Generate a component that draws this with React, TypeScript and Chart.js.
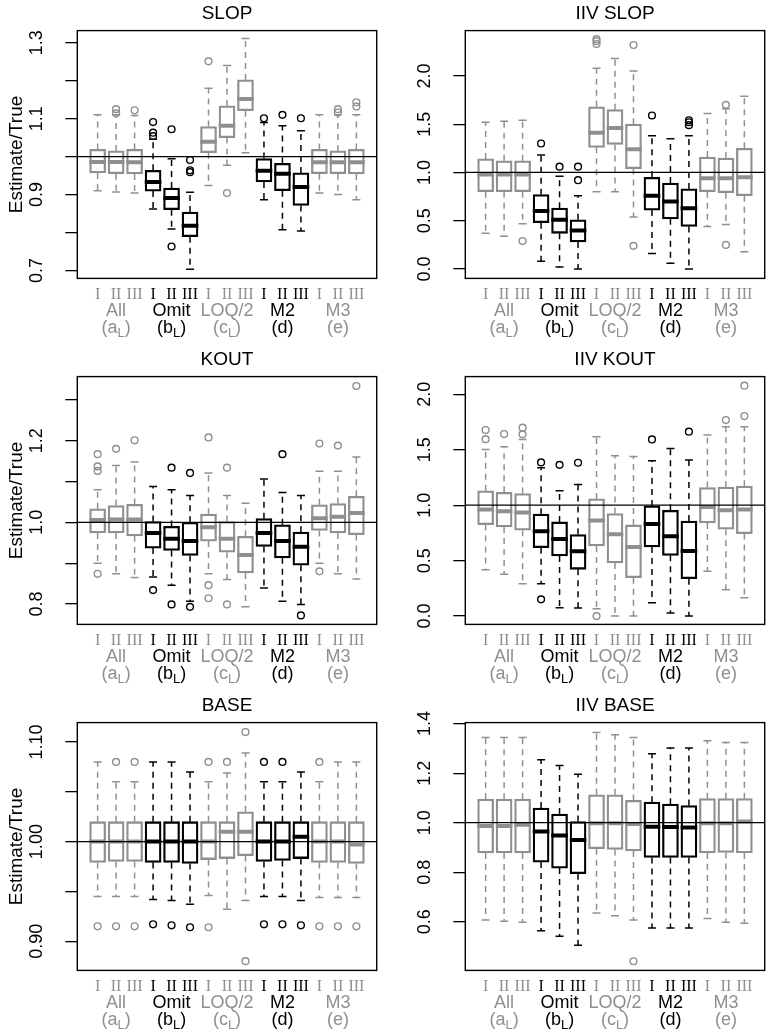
import React, { useEffect, useRef } from 'react';
import { Chart, registerables } from 'chart.js';

Chart.register(...registerables);

const SANS = '"Liberation Sans", Arial, Helvetica, sans-serif';
const SERIF = '"Liberation Serif", "Times New Roman", serif';
const GRAY = '#8f8f8f';
const BLACK = '#000000';

// ---- categories ----
const positions = [1, 2, 3, 4, 5, 6, 7, 8, 9, 10, 11, 12, 13, 14, 15];
const numeralLabels = ['I', 'II', 'III', 'I', 'II', 'III', 'I', 'II', 'III', 'I', 'II', 'III', 'I', 'II', 'III'];
const groupNames = ['All', 'Omit', 'LOQ/2', 'M2', 'M3'];
const groupLetters = ['a', 'b', 'c', 'd', 'e'];
const groupSubscripts = ['L', 'L', 'L', '', ''];
const groupCenters = [2, 5, 8, 11, 14];
const groupDark = [false, true, false, true, false];

// ---- SLOP ----
const slopLo = [0.910, 0.907, 0.904, 0.862, 0.809, 0.703, 0.924, 0.977, 1.010, 0.886, 0.807, 0.804, 0.904, 0.900, 0.886];
const slopQ1 = [0.957, 0.955, 0.954, 0.909, 0.860, 0.789, 1.010, 1.050, 1.121, 0.933, 0.910, 0.871, 0.955, 0.955, 0.954];
const slopMed = [0.986, 0.986, 0.985, 0.933, 0.891, 0.818, 1.039, 1.081, 1.152, 0.963, 0.955, 0.920, 0.985, 0.985, 0.985];
const slopQ3 = [1.019, 1.015, 1.019, 0.964, 0.917, 0.854, 1.079, 1.134, 1.202, 0.995, 0.982, 0.957, 1.019, 1.015, 1.019];
const slopHi = [1.110, 1.110, 1.108, 1.046, 0.994, 0.906, 1.180, 1.240, 1.311, 1.090, 1.081, 1.068, 1.110, 1.110, 1.110];
const slopOut = [[], [1.125, 1.114], [1.122], [1.091, 1.063, 1.054], [1.072, 0.763], [0.991, 0.964, 0.959], [1.251], [0.904], [], [1.101], [1.110], [1.101], [], [1.125, 1.116], [1.143, 1.132]];
const slopRange = [0.679, 1.332];
const slopTicks = [0.7, 0.8, 0.9, 1.0, 1.1, 1.2, 1.3];
const slopTickLabels = ['0.7', '', '0.9', '', '1.1', '', '1.3'];

// ---- IIV SLOP ----
const iivSlopLo = [0.37, 0.34, 0.47, 0.08, 0.02, 0.00, 0.80, 0.80, 0.54, 0.16, 0.06, 0.00, 0.44, 0.46, 0.18];
const iivSlopQ1 = [0.80, 0.80, 0.80, 0.48, 0.37, 0.28, 1.26, 1.29, 1.04, 0.61, 0.52, 0.44, 0.80, 0.79, 0.76];
const iivSlopMed = [0.98, 0.98, 0.98, 0.60, 0.51, 0.40, 1.41, 1.46, 1.24, 0.76, 0.70, 0.63, 0.94, 0.94, 0.95];
const iivSlopQ3 = [1.14, 1.12, 1.12, 0.77, 0.63, 0.51, 1.68, 1.65, 1.50, 0.95, 0.89, 0.83, 1.16, 1.15, 1.25];
const iivSlopHi = [1.52, 1.53, 1.54, 1.18, 0.96, 0.76, 2.08, 2.18, 2.05, 1.38, 1.35, 1.38, 1.61, 1.66, 1.79];
const iivSlopOut = [[], [], [0.29], [1.30], [1.06], [0.92, 1.06], [2.33, 2.36, 2.38], [], [0.24, 2.32], [1.59], [], [1.49, 1.52, 1.54], [], [0.25, 1.70], []];
const iivSlopRange = [-0.097, 2.469];
const iivSlopTicks = [0, 0.5, 1.0, 1.5, 2.0];
const iivSlopTickLabels = ['0.0', '0.5', '1.0', '1.5', '2.0'];

// ---- KOUT ----
const koutLo = [0.900, 0.874, 0.865, 0.866, 0.846, 0.807, 0.874, 0.860, 0.793, 0.839, 0.807, 0.799, 0.900, 0.874, 0.861];
const koutQ1 = [0.974, 0.974, 0.967, 0.937, 0.931, 0.919, 0.954, 0.927, 0.876, 0.941, 0.913, 0.895, 0.980, 0.974, 0.970];
const koutMed = [1.006, 1.007, 1.007, 0.974, 0.960, 0.954, 0.988, 0.960, 0.920, 0.974, 0.954, 0.940, 1.010, 1.014, 1.023];
const koutQ3 = [1.033, 1.041, 1.044, 1.002, 0.990, 1.000, 1.020, 1.002, 0.966, 1.009, 0.994, 0.976, 1.043, 1.046, 1.064];
const koutHi = [1.080, 1.139, 1.148, 1.088, 1.080, 1.066, 1.121, 1.066, 1.047, 1.106, 1.073, 1.066, 1.125, 1.125, 1.160];
const koutOut = [[1.167, 1.137, 1.126, 0.874], [1.180], [1.201], [0.834], [1.134, 0.799], [1.121, 0.793], [1.208, 0.846, 0.814], [1.134, 0.799], [], [], [1.167], [0.772], [1.193, 0.880], [1.188], [1.334]];
const koutRange = [0.750, 1.357];
const koutTicks = [0.8, 0.9, 1.0, 1.1, 1.2, 1.3];
const koutTickLabels = ['0.8', '', '1.0', '', '1.2', ''];

// ---- IIV KOUT ----
const iivKoutLo = [0.419, 0.377, 0.292, 0.292, 0.075, 0.072, 0.066, 0.000, 0.000, 0.120, 0.027, 0.000, 0.404, 0.238, 0.166];
const iivKoutQ1 = [0.825, 0.804, 0.774, 0.617, 0.542, 0.422, 0.633, 0.479, 0.346, 0.623, 0.548, 0.337, 0.840, 0.783, 0.744];
const iivKoutMed = [0.961, 0.946, 0.934, 0.765, 0.696, 0.584, 0.861, 0.738, 0.623, 0.831, 0.720, 0.587, 0.985, 0.955, 0.961];
const iivKoutQ3 = [1.130, 1.117, 1.105, 0.919, 0.849, 0.735, 1.057, 0.925, 0.822, 0.994, 0.955, 0.858, 1.160, 1.163, 1.172];
const iivKoutHi = [1.503, 1.527, 1.593, 1.337, 1.130, 1.187, 1.617, 1.446, 1.440, 1.401, 1.512, 1.407, 1.633, 1.708, 1.708];
const iivKoutOut = [[1.678, 1.596], [1.642], [1.699, 1.639], [1.386, 0.151], [1.364], [1.383], [0.0], [], [], [1.593], [], [1.663], [], [1.768], [2.078, 1.804]];
const iivKoutRange = [-0.075, 2.16];
const iivKoutTicks = [0, 0.5, 1.0, 1.5, 2.0];
const iivKoutTickLabels = ['0.0', '0.5', '1.0', '1.5', '2.0'];

// ---- BASE ----
const baseLo = [0.945, 0.945, 0.945, 0.942, 0.941, 0.937, 0.946, 0.932, 0.941, 0.945, 0.945, 0.941, 0.944, 0.944, 0.944];
const baseQ1 = [0.979, 0.980, 0.980, 0.979, 0.979, 0.978, 0.982, 0.983, 0.986, 0.980, 0.981, 0.983, 0.979, 0.979, 0.978];
const baseMed = [1.000, 1.000, 1.000, 1.000, 1.000, 1.000, 1.000, 1.010, 1.010, 1.000, 1.000, 1.005, 1.000, 1.000, 0.997];
const baseQ3 = [1.020, 1.020, 1.020, 1.020, 1.020, 1.020, 1.020, 1.020, 1.030, 1.020, 1.020, 1.020, 1.020, 1.020, 1.020];
const baseHi = [1.080, 1.060, 1.060, 1.080, 1.080, 1.070, 1.060, 1.069, 1.089, 1.060, 1.060, 1.070, 1.060, 1.080, 1.080];
const baseOut = [[0.915], [1.080, 0.915], [1.080, 0.915], [0.917], [0.916], [0.914], [1.080, 0.914], [1.080], [1.110, 0.880], [1.080, 0.917], [1.080, 0.917], [0.916], [1.080, 0.915], [0.915], [0.915]];
const baseRange = [0.8707, 1.1195];
const baseTicks = [0.90, 0.95, 1.00, 1.05, 1.10];
const baseTickLabels = ['0.90', '', '1.00', '', '1.10'];

// ---- IIV BASE ----
const iivBaseLo = [0.607, 0.602, 0.598, 0.564, 0.542, 0.505, 0.636, 0.625, 0.607, 0.575, 0.575, 0.575, 0.613, 0.598, 0.594];
const iivBaseQ1 = [0.878, 0.878, 0.878, 0.841, 0.817, 0.794, 0.895, 0.892, 0.886, 0.860, 0.860, 0.860, 0.878, 0.880, 0.878];
const iivBaseMed = [0.987, 0.987, 0.992, 0.965, 0.948, 0.930, 0.998, 0.998, 0.995, 0.984, 0.983, 0.981, 0.998, 0.998, 1.005];
const iivBaseQ3 = [1.095, 1.095, 1.095, 1.059, 1.035, 1.005, 1.113, 1.113, 1.090, 1.083, 1.075, 1.069, 1.097, 1.097, 1.097];
const iivBaseHi = [1.344, 1.344, 1.344, 1.254, 1.231, 1.196, 1.364, 1.355, 1.344, 1.278, 1.301, 1.301, 1.331, 1.324, 1.324];
const iivBaseOut = [[], [], [], [], [], [], [], [], [0.441], [], [], [], [], [], []];
const iivBaseRange = [0.404, 1.404];
const iivBaseTicks = [0.6, 0.8, 1.0, 1.2, 1.4];
const iivBaseTickLabels = ['0.6', '0.8', '1.0', '1.2', '1.4'];

type PanelDef = {
  title: string;
  col: number;
  row: number;
  lo: number[]; q1: number[]; med: number[]; q3: number[]; hi: number[]; out: number[][];
  range: number[]; ticks: number[]; tickLabels: string[];
};

const panels: PanelDef[] = [
  { title: 'SLOP', col: 0, row: 0, lo: slopLo, q1: slopQ1, med: slopMed, q3: slopQ3, hi: slopHi, out: slopOut, range: slopRange, ticks: slopTicks, tickLabels: slopTickLabels },
  { title: 'IIV SLOP', col: 1, row: 0, lo: iivSlopLo, q1: iivSlopQ1, med: iivSlopMed, q3: iivSlopQ3, hi: iivSlopHi, out: iivSlopOut, range: iivSlopRange, ticks: iivSlopTicks, tickLabels: iivSlopTickLabels },
  { title: 'KOUT', col: 0, row: 1, lo: koutLo, q1: koutQ1, med: koutMed, q3: koutQ3, hi: koutHi, out: koutOut, range: koutRange, ticks: koutTicks, tickLabels: koutTickLabels },
  { title: 'IIV KOUT', col: 1, row: 1, lo: iivKoutLo, q1: iivKoutQ1, med: iivKoutMed, q3: iivKoutQ3, hi: iivKoutHi, out: iivKoutOut, range: iivKoutRange, ticks: iivKoutTicks, tickLabels: iivKoutTickLabels },
  { title: 'BASE', col: 0, row: 2, lo: baseLo, q1: baseQ1, med: baseMed, q3: baseQ3, hi: baseHi, out: baseOut, range: baseRange, ticks: baseTicks, tickLabels: baseTickLabels },
  { title: 'IIV BASE', col: 1, row: 2, lo: iivBaseLo, q1: iivBaseQ1, med: iivBaseMed, q3: iivBaseQ3, hi: iivBaseHi, out: iivBaseOut, range: iivBaseRange, ticks: iivBaseTicks, tickLabels: iivBaseTickLabels },
];

// ---- layout ----
const CANVAS_W = 389;
const ROW_H = 346;
const PAGE_H = 1030;
const PLOT_LEFT = 77.3;
const PLOT_TOP = 30.6;
const PLOT_BOTTOM = 278.4;
const PLOT_RIGHT = 388.2;
const X_MIN = -0.1;
const X_MAX = 16.1;

const colorOf = (i: number) => (groupDark[Math.floor(i / 3)] ? BLACK : GRAY);
const colorOfX = (x: number) => colorOf(Math.round(x) - 1);

function buildConfig(p: PanelDef, canvasH: number): any {
  const boxes = positions.map((x, i) => ({ x, y: [p.q1[i], p.q3[i]] }));
  const medians = positions.map((x, i) => ({ x, y: p.med[i] }));
  const whiskers: any[] = [];
  positions.forEach((x, i) => {
    whiskers.push({ x, y: p.q3[i] }, { x, y: p.hi[i] }, { x, y: null });
    whiskers.push({ x, y: p.q1[i] }, { x, y: p.lo[i] }, { x, y: null });
  });
  const caps: any[] = [];
  const capColors: string[] = [];
  positions.forEach((x, i) => {
    caps.push({ x, y: p.hi[i] }, { x, y: p.lo[i] });
    capColors.push(colorOf(i), colorOf(i));
  });
  const outliers: any[] = [];
  const outColors: string[] = [];
  positions.forEach((x, i) => {
    p.out[i].forEach((v) => {
      outliers.push({ x, y: v });
      outColors.push(colorOf(i));
    });
  });
  const boxColors = positions.map((_, i) => colorOf(i));
  const isLeft = p.col === 0;

  const decor = {
    id: 'decor',
    afterDraw(chart: any) {
      const { ctx, chartArea } = chart;
      const xs = chart.scales.x;
      const ys = chart.scales.y;
      ctx.save();
      // rotated y tick labels
      ctx.fillStyle = BLACK;
      ctx.font = `18px ${SANS}`;
      ctx.textAlign = 'center';
      ctx.textBaseline = 'middle';
      ys.ticks.forEach((t: any, i: number) => {
        const lab = p.tickLabels[i];
        if (!lab) return;
        const py = ys.getPixelForValue(t.value);
        ctx.save();
        ctx.translate(chartArea.left - 40.3, py);
        ctx.rotate(-Math.PI / 2);
        ctx.fillText(lab, 0, 0);
        ctx.restore();
      });
      // group labels
      groupCenters.forEach((gx, g) => {
        const px = xs.getPixelForValue(gx);
        const color = groupDark[g] ? BLACK : GRAY;
        ctx.fillStyle = color;
        ctx.textBaseline = 'middle';
        ctx.textAlign = 'center';
        ctx.font = `18px ${SANS}`;
        ctx.fillText(groupNames[g], px, chartArea.bottom + 33);
        const yy = chartArea.bottom + 49.6;
        const main = '(' + groupLetters[g];
        const sub = groupSubscripts[g];
        const close = ')';
        const fBig = `18px ${SANS}`;
        const fSmall = `13px ${SANS}`;
        ctx.font = fBig;
        const w1 = ctx.measureText(main).width;
        const w3 = ctx.measureText(close).width;
        ctx.font = fSmall;
        const w2 = sub ? ctx.measureText(sub).width : 0;
        let sx = px - (w1 + w2 + w3) / 2;
        ctx.textAlign = 'left';
        ctx.font = fBig;
        ctx.fillText(main, sx, yy);
        sx += w1;
        if (sub) {
          ctx.font = fSmall;
          ctx.fillText(sub, sx, yy + 5);
          sx += w2;
        }
        ctx.font = fBig;
        ctx.fillText(close, sx, yy);
      });
      // frame
      ctx.strokeStyle = BLACK;
      ctx.lineWidth = 1.4;
      ctx.strokeRect(chartArea.left, chartArea.top, chartArea.right - chartArea.left, chartArea.bottom - chartArea.top);
      ctx.restore();
    },
  };

  return {
    type: 'bar',
    data: {
      datasets: [
        {
          type: 'line',
          label: 'ref',
          data: [{ x: X_MIN, y: 1 }, { x: X_MAX, y: 1 }],
          borderColor: BLACK,
          borderWidth: 1.3,
          pointRadius: 0,
          order: 0,
        },
        {
          type: 'line',
          label: 'outliers',
          data: outliers,
          showLine: false,
          pointStyle: 'circle',
          pointRadius: 3.4,
          pointBorderWidth: 1.4,
          pointBackgroundColor: 'rgba(0,0,0,0)',
          pointBorderColor: outColors,
          order: 1,
        },
        {
          type: 'line',
          label: 'medians',
          data: medians,
          showLine: false,
          pointStyle: 'line',
          pointRadius: 8.3,
          pointBorderWidth: 4,
          pointBorderColor: boxColors,
          order: 2,
        },
        {
          type: 'line',
          label: 'caps',
          data: caps,
          showLine: false,
          pointStyle: 'line',
          pointRadius: 4,
          pointBorderWidth: 1.5,
          pointBorderColor: capColors,
          order: 3,
        },
        {
          type: 'line',
          label: 'whiskers',
          data: whiskers,
          spanGaps: false,
          borderWidth: 1.5,
          borderDash: [6, 5],
          pointRadius: 0,
          borderColor: GRAY,
          segment: { borderColor: (ctx: any) => colorOfX(ctx.p0.parsed.x) },
          order: 4,
        },
        {
          type: 'bar',
          label: 'boxes',
          data: boxes,
          backgroundColor: 'rgba(0,0,0,0)',
          borderColor: boxColors,
          borderWidth: 1.6,
          borderSkipped: false,
          barThickness: 16,
          grouped: false,
          order: 5,
        },
      ],
    },
    options: {
      responsive: false,
      animation: false,
      events: [],
      layout: { padding: { left: 0, top: 0, bottom: 0, right: CANVAS_W - PLOT_RIGHT } },
      plugins: {
        legend: { display: false },
        tooltip: { enabled: false },
        title: {
          display: true,
          text: p.title,
          fullSize: false,
          color: BLACK,
          font: { family: SANS, size: 19, weight: 'normal', lineHeight: 1.2 },
          padding: { top: 2.6, bottom: PLOT_TOP - 22.8 - 2.6 },
        },
      },
      scales: {
        x: {
          type: 'linear',
          min: X_MIN,
          max: X_MAX,
          offset: false,
          afterBuildTicks: (s: any) => {
            s.ticks = positions.map((v) => ({ value: v }));
          },
          afterFit: (s: any) => {
            s.height = canvasH - PLOT_BOTTOM;
          },
          ticks: {
            autoSkip: false,
            maxRotation: 0,
            minRotation: 0,
            padding: 6.7,
            font: { family: SERIF, size: 16 },
            color: (ctx: any) => colorOf(ctx.index),
            callback: (_v: any, i: number) => numeralLabels[i],
          },
          grid: { display: false, drawTicks: false, offset: false },
          border: { display: false },
        },
        y: {
          type: 'linear',
          min: p.range[0],
          max: p.range[1],
          afterBuildTicks: (s: any) => {
            s.ticks = p.ticks.map((v) => ({ value: v }));
          },
          afterFit: (s: any) => {
            s.width = PLOT_LEFT;
          },
          ticks: { display: false },
          grid: { display: true, drawOnChartArea: false, drawTicks: true, tickLength: 12, color: BLACK, lineWidth: 1.3 },
          border: { display: false },
          title: {
            display: isLeft,
            text: 'Estimate/True',
            color: BLACK,
            font: { family: SANS, size: 19, lineHeight: 1.2 },
            padding: { top: 5.6, bottom: 0 },
          },
        },
      },
    },
    plugins: [decor],
  };
}

function Panel({ p }: { p: PanelDef }) {
  const ref = useRef<HTMLCanvasElement>(null);
  const top = p.row * ROW_H;
  const left = p.col === 0 ? 0 : 388;
  const h = Math.min(ROW_H, PAGE_H - top);
  useEffect(() => {
    if (!ref.current) return;
    const chart = new Chart(ref.current, buildConfig(p, h));
    return () => chart.destroy();
  }, []);
  return (
    <canvas
      ref={ref}
      width={CANVAS_W}
      height={h}
      style={{ position: 'absolute', left, top, width: CANVAS_W, height: h }}
    />
  );
}

export default function App() {
  return (
    <div style={{ position: 'absolute', left: 0, top: 0, width: 777, height: PAGE_H, background: '#ffffff', overflow: 'hidden' }}>
      {panels.map((p) => (
        <Panel key={p.title} p={p} />
      ))}
    </div>
  );
}
